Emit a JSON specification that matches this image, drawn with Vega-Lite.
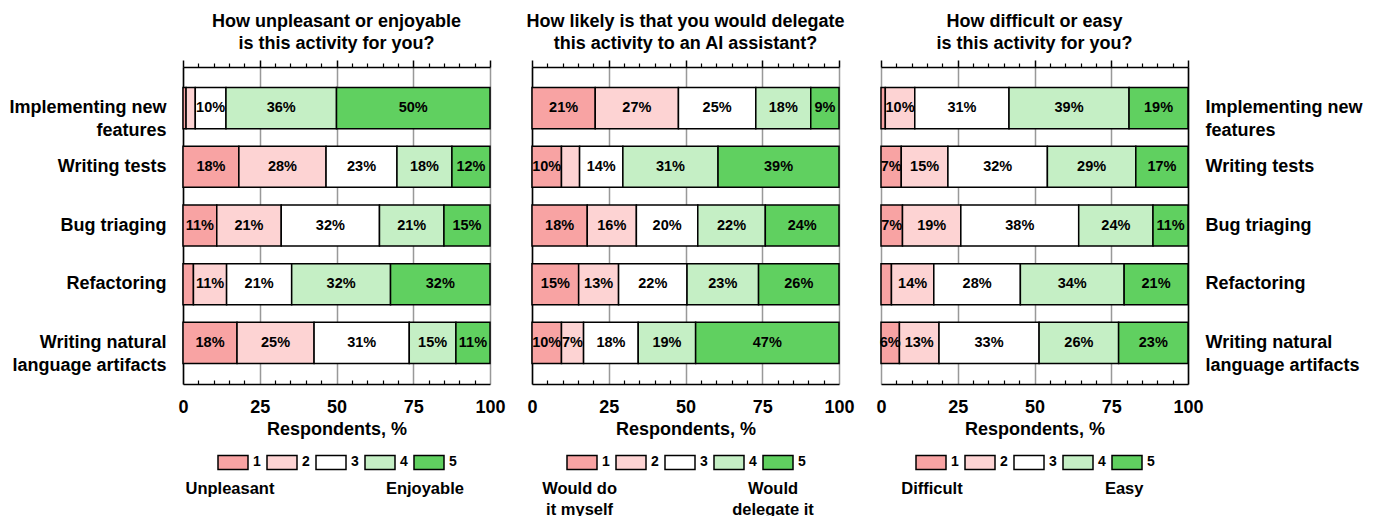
{
  "$schema": "https://vega.github.io/schema/vega-lite/v6.json",
  "padding": {"left": 8, "right": 5, "top": 13, "bottom": 0},
  "background": "white",
  "config": {
    "font": "Liberation Sans",
    "view": {"stroke": null},
    "title": {"fontSize": 18, "fontWeight": "bold", "lineHeight": 22, "offset": 6, "color": "black", "anchor": "middle"},
    "axis": {"labelColor": "black", "titleColor": "black", "labelFont": "Liberation Sans", "titleFont": "Liberation Sans"},
    "legend": {"labelFont": "Liberation Sans", "layout": {"bottom": {"anchor": "middle"}}}
  },
  "datasets": {
    "responses": [
      {"panel": "enjoy", "activity": "Implementing new features", "rating": 1, "pct": 1.0},
      {"panel": "enjoy", "activity": "Implementing new features", "rating": 2, "pct": 3.0},
      {"panel": "enjoy", "activity": "Implementing new features", "rating": 3, "pct": 10.0},
      {"panel": "enjoy", "activity": "Implementing new features", "rating": 4, "pct": 36.0},
      {"panel": "enjoy", "activity": "Implementing new features", "rating": 5, "pct": 50.0},
      {"panel": "enjoy", "activity": "Writing tests", "rating": 1, "pct": 18.2},
      {"panel": "enjoy", "activity": "Writing tests", "rating": 2, "pct": 28.4},
      {"panel": "enjoy", "activity": "Writing tests", "rating": 3, "pct": 23.1},
      {"panel": "enjoy", "activity": "Writing tests", "rating": 4, "pct": 17.9},
      {"panel": "enjoy", "activity": "Writing tests", "rating": 5, "pct": 12.4},
      {"panel": "enjoy", "activity": "Bug triaging", "rating": 1, "pct": 11.0},
      {"panel": "enjoy", "activity": "Bug triaging", "rating": 2, "pct": 21.0},
      {"panel": "enjoy", "activity": "Bug triaging", "rating": 3, "pct": 32.0},
      {"panel": "enjoy", "activity": "Bug triaging", "rating": 4, "pct": 21.0},
      {"panel": "enjoy", "activity": "Bug triaging", "rating": 5, "pct": 15.0},
      {"panel": "enjoy", "activity": "Refactoring", "rating": 1, "pct": 3.4},
      {"panel": "enjoy", "activity": "Refactoring", "rating": 2, "pct": 10.8},
      {"panel": "enjoy", "activity": "Refactoring", "rating": 3, "pct": 21.2},
      {"panel": "enjoy", "activity": "Refactoring", "rating": 4, "pct": 32.2},
      {"panel": "enjoy", "activity": "Refactoring", "rating": 5, "pct": 32.4},
      {"panel": "enjoy", "activity": "Writing natural language artifacts", "rating": 1, "pct": 17.6},
      {"panel": "enjoy", "activity": "Writing natural language artifacts", "rating": 2, "pct": 25.1},
      {"panel": "enjoy", "activity": "Writing natural language artifacts", "rating": 3, "pct": 31.0},
      {"panel": "enjoy", "activity": "Writing natural language artifacts", "rating": 4, "pct": 15.2},
      {"panel": "enjoy", "activity": "Writing natural language artifacts", "rating": 5, "pct": 11.1},
      {"panel": "delegate", "activity": "Implementing new features", "rating": 1, "pct": 20.6},
      {"panel": "delegate", "activity": "Implementing new features", "rating": 2, "pct": 27.1},
      {"panel": "delegate", "activity": "Implementing new features", "rating": 3, "pct": 25.2},
      {"panel": "delegate", "activity": "Implementing new features", "rating": 4, "pct": 17.9},
      {"panel": "delegate", "activity": "Implementing new features", "rating": 5, "pct": 9.2},
      {"panel": "delegate", "activity": "Writing tests", "rating": 1, "pct": 9.6},
      {"panel": "delegate", "activity": "Writing tests", "rating": 2, "pct": 5.9},
      {"panel": "delegate", "activity": "Writing tests", "rating": 3, "pct": 14.1},
      {"panel": "delegate", "activity": "Writing tests", "rating": 4, "pct": 31.0},
      {"panel": "delegate", "activity": "Writing tests", "rating": 5, "pct": 39.4},
      {"panel": "delegate", "activity": "Bug triaging", "rating": 1, "pct": 18.0},
      {"panel": "delegate", "activity": "Bug triaging", "rating": 2, "pct": 16.0},
      {"panel": "delegate", "activity": "Bug triaging", "rating": 3, "pct": 20.0},
      {"panel": "delegate", "activity": "Bug triaging", "rating": 4, "pct": 22.0},
      {"panel": "delegate", "activity": "Bug triaging", "rating": 5, "pct": 24.0},
      {"panel": "delegate", "activity": "Refactoring", "rating": 1, "pct": 15.2},
      {"panel": "delegate", "activity": "Refactoring", "rating": 2, "pct": 13.0},
      {"panel": "delegate", "activity": "Refactoring", "rating": 3, "pct": 22.3},
      {"panel": "delegate", "activity": "Refactoring", "rating": 4, "pct": 23.3},
      {"panel": "delegate", "activity": "Refactoring", "rating": 5, "pct": 26.2},
      {"panel": "delegate", "activity": "Writing natural language artifacts", "rating": 1, "pct": 9.6},
      {"panel": "delegate", "activity": "Writing natural language artifacts", "rating": 2, "pct": 7.2},
      {"panel": "delegate", "activity": "Writing natural language artifacts", "rating": 3, "pct": 17.8},
      {"panel": "delegate", "activity": "Writing natural language artifacts", "rating": 4, "pct": 18.7},
      {"panel": "delegate", "activity": "Writing natural language artifacts", "rating": 5, "pct": 46.7},
      {"panel": "easy", "activity": "Implementing new features", "rating": 1, "pct": 1.4},
      {"panel": "easy", "activity": "Implementing new features", "rating": 2, "pct": 9.6},
      {"panel": "easy", "activity": "Implementing new features", "rating": 3, "pct": 30.7},
      {"panel": "easy", "activity": "Implementing new features", "rating": 4, "pct": 39.1},
      {"panel": "easy", "activity": "Implementing new features", "rating": 5, "pct": 19.2},
      {"panel": "easy", "activity": "Writing tests", "rating": 1, "pct": 6.6},
      {"panel": "easy", "activity": "Writing tests", "rating": 2, "pct": 15.2},
      {"panel": "easy", "activity": "Writing tests", "rating": 3, "pct": 32.4},
      {"panel": "easy", "activity": "Writing tests", "rating": 4, "pct": 28.8},
      {"panel": "easy", "activity": "Writing tests", "rating": 5, "pct": 17.0},
      {"panel": "easy", "activity": "Bug triaging", "rating": 1, "pct": 7.0},
      {"panel": "easy", "activity": "Bug triaging", "rating": 2, "pct": 19.0},
      {"panel": "easy", "activity": "Bug triaging", "rating": 3, "pct": 38.4},
      {"panel": "easy", "activity": "Bug triaging", "rating": 4, "pct": 24.2},
      {"panel": "easy", "activity": "Bug triaging", "rating": 5, "pct": 11.4},
      {"panel": "easy", "activity": "Refactoring", "rating": 1, "pct": 3.4},
      {"panel": "easy", "activity": "Refactoring", "rating": 2, "pct": 13.8},
      {"panel": "easy", "activity": "Refactoring", "rating": 3, "pct": 28.2},
      {"panel": "easy", "activity": "Refactoring", "rating": 4, "pct": 33.8},
      {"panel": "easy", "activity": "Refactoring", "rating": 5, "pct": 20.8},
      {"panel": "easy", "activity": "Writing natural language artifacts", "rating": 1, "pct": 6.0},
      {"panel": "easy", "activity": "Writing natural language artifacts", "rating": 2, "pct": 12.9},
      {"panel": "easy", "activity": "Writing natural language artifacts", "rating": 3, "pct": 32.6},
      {"panel": "easy", "activity": "Writing natural language artifacts", "rating": 4, "pct": 25.9},
      {"panel": "easy", "activity": "Writing natural language artifacts", "rating": 5, "pct": 22.6}
    ],
    "notes": [
      {"panel": "enjoy", "pos": 15.3, "note": "Unpleasant"},
      {"panel": "enjoy", "pos": 78.8, "note": "Enjoyable"},
      {"panel": "delegate", "pos": 15.5, "note": "Would do\nit myself"},
      {"panel": "delegate", "pos": 78.5, "note": "Would\ndelegate it"},
      {"panel": "easy", "pos": 16.6, "note": "Difficult"},
      {"panel": "easy", "pos": 79.2, "note": "Easy"}
    ]
  },
  "spacing": 3,
  "vconcat": [
    {
      "bounds": "flush",
      "spacing": 42,
      "resolve": {"scale": {"color": "independent"}},
      "hconcat": [
        {
          "width": 307, "height": 317,
          "title": {"text": ["How unpleasant or enjoyable", "is this activity for you?"]},
          "data": {"name": "responses"},
          "transform": [
            {"filter": "datum.panel === 'enjoy'"},
            {"stack": "pct", "groupby": ["activity"], "sort": [{"field": "rating", "order": "ascending"}], "as": ["x0", "x1"]}
          ],
          "layer": [
            {
              "mark": {"type": "bar", "stroke": "black", "strokeWidth": 1.5},
              "encoding": {
                "x": {"field": "x0", "type": "quantitative", "scale": {"domain": [0, 100], "nice": false, "zero": true},
                  "axis": {"orient": "bottom", "values": [0, 25, 50, 75, 100], "title": "Respondents, %", "titleFontSize": 18, "titleFontWeight": "bold", "titlePadding": 4, "labelFontSize": 18, "labelFontWeight": "bold", "labelPadding": 14, "labelFlush": false, "ticks": false, "domainColor": "black", "domainWidth": 1.5, "grid": true, "gridColor": "#999999", "gridWidth": 1.5}},
                "x2": {"field": "x1"},
                "y": {"field": "activity", "type": "nominal", "sort": ["Implementing new features", "Writing tests", "Bug triaging", "Refactoring", "Writing natural language artifacts"],
                  "scale": {"paddingInner": 0.3, "paddingOuter": 0.35},
                  "axis": {"orient": "left", "title": null, "labelFontSize": 18, "labelFontWeight": "bold", "labelPadding": 17, "labelLimit": 300, "labelLineHeight": 23, "ticks": false, "domain": true, "domainColor": "black", "domainWidth": 1.5, "grid": false,
                    "labelExpr": "datum.value == 'Implementing new features' ? ['Implementing new', 'features'] : datum.value == 'Writing natural language artifacts' ? ['Writing natural', 'language artifacts'] : datum.value"}},
                "color": {"field": "rating", "type": "ordinal",
                  "scale": {"domain": [1, 2, 3, 4, 5], "range": ["#f8a3a3", "#fdd3d3", "#ffffff", "#c5efc5", "#60d060"]},
                  "legend": {"orient": "bottom", "direction": "horizontal", "title": null, "symbolType": "M-1,-0.467H1V0.467H-1Z", "symbolSize": 900, "labelFontSize": 14, "labelFontWeight": "bold", "labelColor": "black", "labelOffset": 4, "columnPadding": 3, "offset": 8,
                    "encode": {"symbols": {"update": {"stroke": {"value": "black"}, "strokeWidth": {"value": 1.5}, "opacity": {"value": 1}}}}}}
              }
            },
            {
              "transform": [
                {"filter": "datum.pct >= 6"},
                {"calculate": "(datum.x0 + datum.x1) / 2", "as": "mid"},
                {"calculate": "format(datum.pct, '.0f') + '%'", "as": "label"}
              ],
              "mark": {"type": "text", "fontSize": 14.5, "fontWeight": "bold", "color": "black", "align": "center", "baseline": "middle"},
              "encoding": {
                "x": {"field": "mid", "type": "quantitative", "scale": {"domain": [0, 100], "nice": false, "zero": true},
                  "axis": {"orient": "top", "values": [0, 25, 50, 75, 100], "labels": false, "title": null, "tickSize": 7, "tickColor": "black", "tickWidth": 1.5, "domainColor": "black", "domainWidth": 1.5, "grid": false}},
                "y": {"field": "activity", "type": "nominal", "sort": ["Implementing new features", "Writing tests", "Bug triaging", "Refactoring", "Writing natural language artifacts"]},
                "text": {"field": "label"}
              }
            },
            {
              "mark": {"type": "point", "opacity": 0},
              "encoding": {
                "x": {"field": "x0", "type": "quantitative", "scale": {"domain": [0, 100], "nice": false, "zero": true},
                  "axis": {"orient": "top", "values": [5, 10, 15, 20, 30, 35, 40, 45, 55, 60, 65, 70, 80, 85, 90, 95], "labels": false, "title": null, "tickSize": 4, "tickColor": "black", "tickWidth": 1.2, "domain": false, "grid": false}},
                "y": {"field": "activity", "type": "nominal", "sort": ["Implementing new features", "Writing tests", "Bug triaging", "Refactoring", "Writing natural language artifacts"]}
              }
            },
            {
              "mark": {"type": "point", "opacity": 0},
              "encoding": {
                "x": {"field": "x1", "type": "quantitative", "scale": {"domain": [0, 100], "nice": false, "zero": true},
                  "axis": {"orient": "bottom", "offset": -4, "values": [5, 10, 15, 20, 30, 35, 40, 45, 55, 60, 65, 70, 80, 85, 90, 95], "labels": false, "title": null, "tickSize": 4, "tickColor": "black", "tickWidth": 1.2, "domain": false, "grid": false}},
                "y": {"field": "activity", "type": "nominal", "sort": ["Implementing new features", "Writing tests", "Bug triaging", "Refactoring", "Writing natural language artifacts"]}
              }
            }
          ],
          "resolve": {"scale": {"x": "independent"}, "axis": {"x": "independent"}}
        },
        {
          "width": 307, "height": 317,
          "title": {"text": ["How likely is that you would delegate", "this activity to an AI assistant?"]},
          "data": {"name": "responses"},
          "transform": [
            {"filter": "datum.panel === 'delegate'"},
            {"stack": "pct", "groupby": ["activity"], "sort": [{"field": "rating", "order": "ascending"}], "as": ["x0", "x1"]}
          ],
          "layer": [
            {
              "mark": {"type": "bar", "stroke": "black", "strokeWidth": 1.5},
              "encoding": {
                "x": {"field": "x0", "type": "quantitative", "scale": {"domain": [0, 100], "nice": false, "zero": true},
                  "axis": {"orient": "bottom", "values": [0, 25, 50, 75, 100], "title": "Respondents, %", "titleFontSize": 18, "titleFontWeight": "bold", "titlePadding": 4, "labelFontSize": 18, "labelFontWeight": "bold", "labelPadding": 14, "labelFlush": false, "ticks": false, "domainColor": "black", "domainWidth": 1.5, "grid": true, "gridColor": "#999999", "gridWidth": 1.5}},
                "x2": {"field": "x1"},
                "y": {"field": "activity", "type": "nominal", "sort": ["Implementing new features", "Writing tests", "Bug triaging", "Refactoring", "Writing natural language artifacts"],
                  "scale": {"paddingInner": 0.3, "paddingOuter": 0.35},
                  "axis": {"orient": "left", "title": null, "labels": false, "ticks": false, "domain": true, "domainColor": "black", "domainWidth": 1.5, "grid": false}},
                "color": {"field": "rating", "type": "ordinal",
                  "scale": {"domain": [1, 2, 3, 4, 5], "range": ["#f8a3a3", "#fdd3d3", "#ffffff", "#c5efc5", "#60d060"]},
                  "legend": {"orient": "bottom", "direction": "horizontal", "title": null, "symbolType": "M-1,-0.467H1V0.467H-1Z", "symbolSize": 900, "labelFontSize": 14, "labelFontWeight": "bold", "labelColor": "black", "labelOffset": 4, "columnPadding": 3, "offset": 8,
                    "encode": {"symbols": {"update": {"stroke": {"value": "black"}, "strokeWidth": {"value": 1.5}, "opacity": {"value": 1}}}}}}
              }
            },
            {
              "transform": [
                {"filter": "datum.pct >= 6"},
                {"calculate": "(datum.x0 + datum.x1) / 2", "as": "mid"},
                {"calculate": "format(datum.pct, '.0f') + '%'", "as": "label"}
              ],
              "mark": {"type": "text", "fontSize": 14.5, "fontWeight": "bold", "color": "black", "align": "center", "baseline": "middle"},
              "encoding": {
                "x": {"field": "mid", "type": "quantitative", "scale": {"domain": [0, 100], "nice": false, "zero": true},
                  "axis": {"orient": "top", "values": [0, 25, 50, 75, 100], "labels": false, "title": null, "tickSize": 7, "tickColor": "black", "tickWidth": 1.5, "domainColor": "black", "domainWidth": 1.5, "grid": false}},
                "y": {"field": "activity", "type": "nominal", "sort": ["Implementing new features", "Writing tests", "Bug triaging", "Refactoring", "Writing natural language artifacts"]},
                "text": {"field": "label"}
              }
            },
            {
              "mark": {"type": "point", "opacity": 0},
              "encoding": {
                "x": {"field": "x0", "type": "quantitative", "scale": {"domain": [0, 100], "nice": false, "zero": true},
                  "axis": {"orient": "top", "values": [5, 10, 15, 20, 30, 35, 40, 45, 55, 60, 65, 70, 80, 85, 90, 95], "labels": false, "title": null, "tickSize": 4, "tickColor": "black", "tickWidth": 1.2, "domain": false, "grid": false}},
                "y": {"field": "activity", "type": "nominal", "sort": ["Implementing new features", "Writing tests", "Bug triaging", "Refactoring", "Writing natural language artifacts"]}
              }
            },
            {
              "mark": {"type": "point", "opacity": 0},
              "encoding": {
                "x": {"field": "x1", "type": "quantitative", "scale": {"domain": [0, 100], "nice": false, "zero": true},
                  "axis": {"orient": "bottom", "offset": -4, "values": [5, 10, 15, 20, 30, 35, 40, 45, 55, 60, 65, 70, 80, 85, 90, 95], "labels": false, "title": null, "tickSize": 4, "tickColor": "black", "tickWidth": 1.2, "domain": false, "grid": false}},
                "y": {"field": "activity", "type": "nominal", "sort": ["Implementing new features", "Writing tests", "Bug triaging", "Refactoring", "Writing natural language artifacts"]}
              }
            }
          ],
          "resolve": {"scale": {"x": "independent"}, "axis": {"x": "independent"}}
        },
        {
          "width": 307, "height": 317,
          "title": {"text": ["How difficult or easy", "is this activity for you?"]},
          "data": {"name": "responses"},
          "transform": [
            {"filter": "datum.panel === 'easy'"},
            {"stack": "pct", "groupby": ["activity"], "sort": [{"field": "rating", "order": "ascending"}], "as": ["x0", "x1"]}
          ],
          "layer": [
            {
              "mark": {"type": "bar", "stroke": "black", "strokeWidth": 1.5},
              "encoding": {
                "x": {"field": "x0", "type": "quantitative", "scale": {"domain": [0, 100], "nice": false, "zero": true},
                  "axis": {"orient": "bottom", "values": [0, 25, 50, 75, 100], "title": "Respondents, %", "titleFontSize": 18, "titleFontWeight": "bold", "titlePadding": 4, "labelFontSize": 18, "labelFontWeight": "bold", "labelPadding": 14, "labelFlush": false, "ticks": false, "domainColor": "black", "domainWidth": 1.5, "grid": true, "gridColor": "#999999", "gridWidth": 1.5}},
                "x2": {"field": "x1"},
                "y": {"field": "activity", "type": "nominal", "sort": ["Implementing new features", "Writing tests", "Bug triaging", "Refactoring", "Writing natural language artifacts"],
                  "scale": {"paddingInner": 0.3, "paddingOuter": 0.35},
                  "axis": {"orient": "right", "title": null, "labelFontSize": 18, "labelFontWeight": "bold", "labelPadding": 17, "labelLimit": 300, "labelLineHeight": 23, "ticks": false, "domain": true, "domainColor": "black", "domainWidth": 1.5, "grid": false,
                    "labelExpr": "datum.value == 'Implementing new features' ? ['Implementing new', 'features'] : datum.value == 'Writing natural language artifacts' ? ['Writing natural', 'language artifacts'] : datum.value"}},
                "color": {"field": "rating", "type": "ordinal",
                  "scale": {"domain": [1, 2, 3, 4, 5], "range": ["#f8a3a3", "#fdd3d3", "#ffffff", "#c5efc5", "#60d060"]},
                  "legend": {"orient": "bottom", "direction": "horizontal", "title": null, "symbolType": "M-1,-0.467H1V0.467H-1Z", "symbolSize": 900, "labelFontSize": 14, "labelFontWeight": "bold", "labelColor": "black", "labelOffset": 4, "columnPadding": 3, "offset": 8,
                    "encode": {"symbols": {"update": {"stroke": {"value": "black"}, "strokeWidth": {"value": 1.5}, "opacity": {"value": 1}}}}}}
              }
            },
            {
              "transform": [
                {"filter": "datum.pct >= 6"},
                {"calculate": "(datum.x0 + datum.x1) / 2", "as": "mid"},
                {"calculate": "format(datum.pct, '.0f') + '%'", "as": "label"}
              ],
              "mark": {"type": "text", "fontSize": 14.5, "fontWeight": "bold", "color": "black", "align": "center", "baseline": "middle"},
              "encoding": {
                "x": {"field": "mid", "type": "quantitative", "scale": {"domain": [0, 100], "nice": false, "zero": true},
                  "axis": {"orient": "top", "values": [0, 25, 50, 75, 100], "labels": false, "title": null, "tickSize": 7, "tickColor": "black", "tickWidth": 1.5, "domainColor": "black", "domainWidth": 1.5, "grid": false}},
                "y": {"field": "activity", "type": "nominal", "sort": ["Implementing new features", "Writing tests", "Bug triaging", "Refactoring", "Writing natural language artifacts"]},
                "text": {"field": "label"}
              }
            },
            {
              "mark": {"type": "point", "opacity": 0},
              "encoding": {
                "x": {"field": "x0", "type": "quantitative", "scale": {"domain": [0, 100], "nice": false, "zero": true},
                  "axis": {"orient": "top", "values": [5, 10, 15, 20, 30, 35, 40, 45, 55, 60, 65, 70, 80, 85, 90, 95], "labels": false, "title": null, "tickSize": 4, "tickColor": "black", "tickWidth": 1.2, "domain": false, "grid": false}},
                "y": {"field": "activity", "type": "nominal", "sort": ["Implementing new features", "Writing tests", "Bug triaging", "Refactoring", "Writing natural language artifacts"]}
              }
            },
            {
              "mark": {"type": "point", "opacity": 0},
              "encoding": {
                "x": {"field": "x1", "type": "quantitative", "scale": {"domain": [0, 100], "nice": false, "zero": true},
                  "axis": {"orient": "bottom", "offset": -4, "values": [5, 10, 15, 20, 30, 35, 40, 45, 55, 60, 65, 70, 80, 85, 90, 95], "labels": false, "title": null, "tickSize": 4, "tickColor": "black", "tickWidth": 1.2, "domain": false, "grid": false}},
                "y": {"field": "activity", "type": "nominal", "sort": ["Implementing new features", "Writing tests", "Bug triaging", "Refactoring", "Writing natural language artifacts"]}
              }
            }
          ],
          "resolve": {"scale": {"x": "independent"}, "axis": {"x": "independent"}}
        }
      ]
    },
    {
      "bounds": "flush",
      "spacing": 42,
      "hconcat": [
        {
          "width": 307, "height": 10,
          "data": {"name": "notes"},
          "transform": [{"filter": "datum.panel === 'enjoy'"}],
          "mark": {"type": "text", "fontSize": 16.5, "fontWeight": "bold", "color": "black", "align": "center", "baseline": "top", "lineBreak": "\n", "lineHeight": 21},
          "encoding": {
            "x": {"field": "pos", "type": "quantitative", "scale": {"domain": [0, 100], "nice": false}, "axis": null},
            "y": {"field": "panel", "type": "nominal", "axis": null},
            "text": {"field": "note"}
          }
        },
        {
          "width": 307, "height": 10,
          "data": {"name": "notes"},
          "transform": [{"filter": "datum.panel === 'delegate'"}],
          "mark": {"type": "text", "fontSize": 16.5, "fontWeight": "bold", "color": "black", "align": "center", "baseline": "top", "lineBreak": "\n", "lineHeight": 21},
          "encoding": {
            "x": {"field": "pos", "type": "quantitative", "scale": {"domain": [0, 100], "nice": false}, "axis": null},
            "y": {"field": "panel", "type": "nominal", "axis": null},
            "text": {"field": "note"}
          }
        },
        {
          "width": 307, "height": 10,
          "data": {"name": "notes"},
          "transform": [{"filter": "datum.panel === 'easy'"}],
          "mark": {"type": "text", "fontSize": 16.5, "fontWeight": "bold", "color": "black", "align": "center", "baseline": "top", "lineBreak": "\n", "lineHeight": 21},
          "encoding": {
            "x": {"field": "pos", "type": "quantitative", "scale": {"domain": [0, 100], "nice": false}, "axis": null},
            "y": {"field": "panel", "type": "nominal", "axis": null},
            "text": {"field": "note"}
          }
        }
      ]
    }
  ]
}
